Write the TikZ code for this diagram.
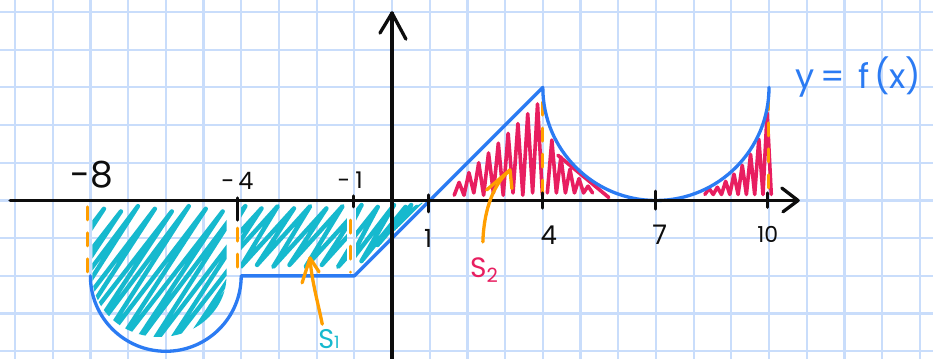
\documentclass[tikz,border=0pt]{standalone}
\usepackage{fontspec}
\setmainfont{Poppins}
\definecolor{gridc}{RGB}{201,221,251}
\definecolor{fblue}{RGB}{43,123,243}
\definecolor{scyan}{RGB}{22,185,206}
\definecolor{smag}{RGB}{232,30,96}
\definecolor{sorange}{RGB}{255,158,0}
\begin{document}
\begin{tikzpicture}[x=37.7pt,y=37.7pt,
  declare function={
    bC(\t)=(\t<-0.95) ? -1.8 : \t-0.8;
  },
  gridline/.style={draw=gridc,line width=2.2pt},
  axisline/.style={draw=black!95,line width=3.3pt,line cap=round,line join=round},
  tickline/.style={draw=black!95,line width=3pt,line cap=round},
  curve/.style={draw=fblue,line width=3.3pt,line cap=round,line join=round},
  cyanscrib/.style={draw=scyan,line width=4.4pt,line cap=round,line join=round},
  magscrib/.style={draw=smag,line width=3.6pt,line cap=round,line join=round},
  guide/.style={draw=sorange,line width=3pt,dash pattern=on 13pt off 13pt,line cap=round},
  pointer/.style={draw=sorange,line width=3.3pt,line cap=round,line join=round},
  numlabel/.style={inner sep=0pt,text=black!95},
]
\useasboundingbox (-10.398,-4.204) rectangle (14.350,5.318);
\clip (-10.398,-4.204) rectangle (14.350,5.318);
\fill[white] (-10.398,-4.204) rectangle (14.350,5.318);
\draw[gridline,step={(1,1)}] (-10.398,-4.204) grid (14.350,5.318);

% cyan scribbles (S1)
\begin{scope}
\clip (-7.95,-0.08) -- (-7.95,-2) arc[start angle=180,end angle=360,x radius=1.78,y radius=1.62] -- (-4.39,-0.08) -- cycle;
\draw[cyanscrib] (-11.2,-4.3) \foreach \k in {0,...,14}{ -- ({-11.2+0.45*\k+3.11},{-0.15-0.07*mod(\k,3)}) -- ({-11.2+0.45*(\k+1)},-4.3) };
\end{scope}
\begin{scope}
\clip (-4.0,-0.08) rectangle (-1.2,-1.86);
\draw[cyanscrib] (-5.3,-1.76) \foreach \k in {0,...,9}{ -- ({-5.3+0.43*\k+0.21+1.2},{-0.15-0.06*mod(\k,2)}) -- ({-5.3+0.43*(\k+1)},{-1.76+0.05*mod(\k,2)}) };
\end{scope}
\begin{scope}
\clip (-0.95,-0.06) -- (0.82,-0.06) -- (-0.95,-1.83) -- cycle;
\draw[cyanscrib] (-2.1,{bC(-2.1)}) \foreach \k in {0,...,6}{ -- ({-2.1+0.43*\k+0.2+0.65*(-0.12-bC(-2.1+0.43*\k))},{-0.12-0.05*mod(\k,2)}) -- ({-2.1+0.43*(\k+1)},{bC(-2.1+0.43*(\k+1))}) };
\end{scope}

% magenta scribbles (S2)
\draw[magscrib] (1.65,0.14) \foreach \k in {0,...,8}{ -- ({1.65+0.26*\k+0.13},{max(1.65+0.26*\k+0.13-1.3,0.42)}) -- ({1.65+0.26*(\k+1)},{0.14+0.06*mod(\k,2)}) };
\draw[magscrib] (4.12,0.2) \foreach \k in {0,...,4}{ -- ({4.24+0.24*\k},{3-sqrt(9-(4.24+0.24*\k-7)*(4.24+0.24*\k-7))-0.22}) -- ({4.12+0.24*(\k+1)},0.2) };
\draw[magscrib] (4.4,1.2) -- (5.75,0.08);
\draw[magscrib] (8.3,0.16) \foreach \k in {0,...,7}{ -- ({8.41+0.22*\k},{max(3-sqrt(9-(8.41+0.22*\k-7)*(8.41+0.22*\k-7))-0.13,0.32)}) -- ({8.3+0.22*(\k+1)},0.16) };

% orange guides
\coordinate (gA1) at (-8.08,-0.17); \coordinate (gA2) at (-8.08,-2.06);
\coordinate (gB1) at (-4.11,-0.73); \coordinate (gB2) at (-4.11,-1.90);
\coordinate (gC1) at (-1.11,-0.52); \coordinate (gC2) at (-1.11,-1.90);
\coordinate (gD1) at (3.98,2.61); \coordinate (gD2) at (3.98,0.2);
\coordinate (gE1) at (9.98,2.75); \coordinate (gE2) at (9.98,0.33);
\draw[guide] (gA1) -- (gA2);
\draw[guide] (gB1) -- (gB2);
\draw[guide] (gC1) -- (gC2);
\draw[guide] (gD1) -- (gD2);
\draw[guide] (gE1) -- (gE2);

% the function
\draw[curve] (-8,-2) arc[start angle=180,end angle=360,radius=2] -- (-1,-2) -- (4,3) arc[start angle=180,end angle=360,radius=3];

% axes
\coordinate (xstart) at (-10.13,0); \coordinate (xtip) at (10.77,0);
\coordinate (ystart) at (0,-4.4); \coordinate (ytip) at (0,4.97);
\draw[axisline] (xstart) -- (xtip);
\draw[axisline] (10.34,0.33) -- (xtip) -- (10.37,-0.3);
\draw[axisline] (ystart) -- (ytip);
\draw[axisline] (-0.32,4.44) -- (ytip) -- (0.37,4.28);

% ticks
\draw[tickline] (-4.11,0.07) -- (-4.11,-0.52);
\draw[tickline] (-1.03,0.12) -- (-1.03,-0.17);
\draw[tickline] (0.955,0.15) -- (0.955,-0.3);
\draw[tickline] (4.0,0.2) -- (4.0,-0.2);
\draw[tickline] (6.98,0.25) -- (6.98,-0.23);
\draw[tickline] (9.97,0.2) -- (9.97,-0.18);

% labels
\node[numlabel,font=\fontsize{36}{36}\selectfont] (lm8) at (-7.96,0.68) {-8};
\node[numlabel,font=\fontsize{24}{24}\selectfont] (lm4) at (-4.10,0.52) {-\kern4pt 4};
\node[numlabel,font=\fontsize{23}{23}\selectfont] (lm1) at (-1.11,0.55) {-\kern5pt 1};
\node[numlabel,font=\fontsize{25}{25}\selectfont] (l1) at (0.955,-1.02) {1};
\node[numlabel,font=\fontsize{26}{26}\selectfont] (l4) at (4.16,-0.92) {4};
\node[numlabel,font=\fontsize{27}{27}\selectfont] (l7) at (7.1,-0.92) {7};
\node[numlabel,font=\fontsize{22}{22}\selectfont] (l10) at (9.97,-0.9) {10};
\node[anchor=base west,inner sep=0pt,text=fblue,font=\fontsize{34}{34}\selectfont] (flabel) at (10.69,2.96) {y\hspace{6pt}=\hspace{14pt}f\hspace{4pt}(x)};
\node[anchor=base west,inner sep=0pt,text=scyan,font=\fontsize{27}{27}\selectfont] (s1) at (-1.96,-3.93) {S\raisebox{0.02em}{\fontsize{17}{17}\selectfont 1}};
\node[anchor=base west,inner sep=0pt,text=smag,font=\fontsize{28}{28}\selectfont] (s2) at (2.07,-2.03) {S\textsubscript{2}};

% orange pointers
\coordinate (p1tail) at (-1.85,-3.28); \coordinate (p1tip) at (-2.175,-1.525);
\draw[pointer] (p1tail) .. controls (-1.96,-2.72) and (-2.14,-2.1) .. (p1tip);
\draw[pointer] (p1tip) ++(-0.21,-0.66) -- (p1tip) -- ++(0.24,-0.37);
\coordinate (p2tail) at (2.41,-1.10); \coordinate (p2tip) at (3.13,0.81);
\draw[pointer] (p2tail) .. controls (2.43,-0.4) and (2.62,0.38) .. (p2tip);
\draw[pointer] (p2tip) ++(-0.62,-0.53) -- (p2tip) -- ++(0.05,-0.49);
\end{tikzpicture}
\end{document}
